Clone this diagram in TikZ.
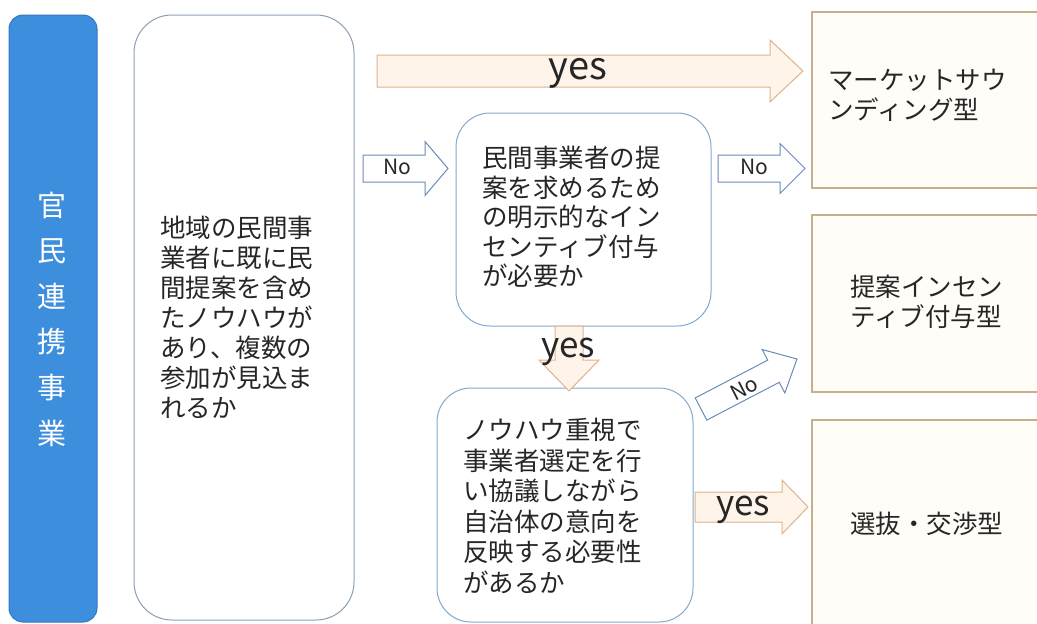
\documentclass[tikz,border=0pt]{standalone}
\usepackage{fontspec}
\setmainfont{Noto Sans CJK JP}
\usetikzlibrary{calc}
\definecolor{bluef}{RGB}{62,142,222}
\definecolor{blued}{RGB}{50,120,195}
\definecolor{qline}{RGB}{140,160,180}
\definecolor{q2line}{RGB}{130,170,205}
\definecolor{rline}{RGB}{200,175,140}
\definecolor{rfill}{RGB}{255,253,247}
\definecolor{pline}{RGB}{222,180,140}
\definecolor{pfill}{RGB}{254,244,234}
\definecolor{bline}{RGB}{105,140,185}
\definecolor{txt}{RGB}{38,38,38}
\newcommand\blockarrow[6]{%
  \path ($(#3)!#6!(#2)$) coordinate (ba-h);
  \draw[#1] ($(#2)!#4!90:(#3)$) -- ($(ba-h)!#4!90:(#3)$) -- ($(ba-h)!#5!90:(#3)$) -- (#3)
    -- ($(ba-h)!#5!-90:(#3)$) -- ($(ba-h)!#4!-90:(#3)$) -- ($(#2)!#4!-90:(#3)$) -- cycle;}
\begin{document}
\begin{tikzpicture}[x=1pt,y=-1pt,
  sidebox/.style={fill=bluef,draw=blued,line width=1pt,rounded corners=14pt},
  qbox/.style={draw=qline,fill=white,line width=1pt,rounded corners=38pt},
  q2box/.style={draw=q2line,fill=white,line width=1pt,rounded corners=34pt},
  rbox/.style={draw=rline,fill=rfill,line width=1.2pt},
  qtext/.style={font=\fontsize{25.5}{30}\selectfont,text=txt,align=left,inner sep=0pt,anchor=west},
  peach/.style={draw=pline,fill=pfill,line width=1pt},
  bluearrow/.style={draw=bline,fill=white,line width=1pt},
  yeslbl/.style={font=\fontsize{35}{35}\selectfont,text=txt,inner sep=0pt},
  nolbl/.style={font=\fontsize{21}{21}\selectfont,text=txt,inner sep=0pt}]
\useasboundingbox (0,0) rectangle (1037,624);
\clip (0,0) rectangle (1037,624);
\fill[white] (0,0) rectangle (1037,624);
% boxes
\node[sidebox,minimum width=88pt,minimum height=607pt] (side) at (53,318.5) {};
\node[qbox,minimum width=220pt,minimum height=605pt] (q1) at (244,317.5) {};
\node[q2box,minimum width=255pt,minimum height=213pt] (q2) at (583.5,219.5) {};
\node[q2box,minimum width=256pt,minimum height=234pt] (q3) at (565,505) {};
\node[rbox,minimum width=248pt,minimum height=176pt] (r1) at (936,100) {};
\node[rbox,minimum width=248pt,minimum height=177pt] (r2) at (936,303.5) {};
\node[rbox,minimum width=248pt,minimum height=220pt] (r3) at (936,530) {};
% texts
\node[font=\fontsize{29}{45.6}\selectfont,text=white,align=center,inner sep=0pt] (sidet) at (52,319) {官\\民\\連\\携\\事\\業};
\node[qtext] (q1t) at (160,317) {地域の民間事\\業者に既に民\\間提案を含め\\たノウハウが\\あり、複数の\\参加が見込ま\\れるか};
\node[qtext,font=\fontsize{25.5}{29.5}\selectfont] (q2t) at (482,217) {民間事業者の提\\案を求めるため\\の明示的なイン\\センティブ付与\\が必要か};
\node[qtext,font=\fontsize{25.5}{30.6}\selectfont] (q3t) at (463,506) {ノウハウ重視で\\事業者選定を行\\い協議しながら\\自治体の意向を\\反映する必要性\\があるか};
\node[qtext] (r1t) at (828,95) {マーケットサウ\\ンディング型};
\node[qtext] (r2t) at (850,302) {提案インセン\\ティブ付与型};
\node[qtext] (r3t) at (850,524) {選抜・交渉型};
% arrows
\coordinate (a1s) at (377,71);   \coordinate (a1t) at (803,71);
\coordinate (a2s) at (363,168.5); \coordinate (a2t) at (448,168.5);
\coordinate (a3s) at (718,168.5); \coordinate (a3t) at (805,168.5);
\coordinate (a4s) at (569,326);  \coordinate (a4t) at (569,391);
\coordinate (a5s) at (695,507);  \coordinate (a5t) at (808,507);
\coordinate (a6s) at (701,409);  \coordinate (a6t) at (797,359);
\blockarrow{peach}{a1s}{a1t}{16pt}{31pt}{33pt}
\blockarrow{bluearrow}{a2s}{a2t}{13.5pt}{27pt}{23pt}
\blockarrow{bluearrow}{a3s}{a3t}{13.5pt}{25pt}{25pt}
\blockarrow{peach}{a4s}{a4t}{14pt}{30pt}{31pt}
\blockarrow{peach}{a5s}{a5t}{15pt}{27pt}{26pt}
\blockarrow{bluearrow}{a6s}{a6t}{12.5pt}{24.5pt}{26.5pt}
% labels
\node[yeslbl,font=\fontsize{38}{38}\selectfont] (l1) at (578,73) {yes};
\node[nolbl] (l2) at (397,167) {No};
\node[nolbl] (l3) at (754,167) {No};
\node[yeslbl] (l4) at (568,352) {yes};
\node[yeslbl] (l5) at (743,510) {yes};
\node[nolbl,rotate=27] (l6) at (744,388) {No};
\end{tikzpicture}
\end{document}
